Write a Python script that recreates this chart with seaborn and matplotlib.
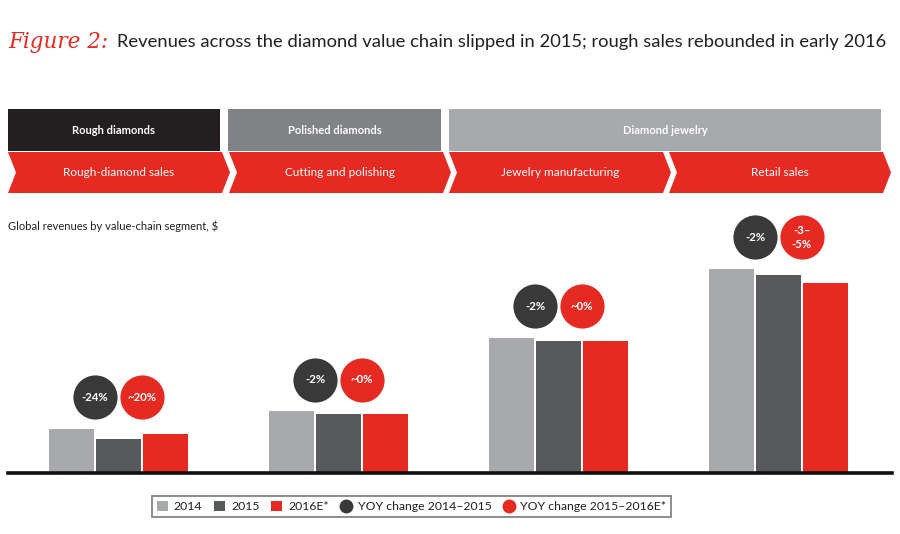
import matplotlib
matplotlib.use("Agg")
import matplotlib.pyplot as plt
from matplotlib.patches import Polygon, Rectangle, Patch
from matplotlib.lines import Line2D
import seaborn as sns
import pandas as pd

# ---------------- data ----------------
segments = ["Rough-diamond sales", "Cutting and polishing", "Jewelry manufacturing", "Retail sales"]
years = ["2014", "2015", "2016E*"]
values_2014 = [17.5, 24.6, 53.6, 81.0]
values_2015 = [13.3, 23.4, 52.4, 78.6]
values_2016 = [15.5, 23.4, 52.4, 75.4]
yoy_1415 = ["-24%", "-2%", "-2%", "-2%"]
yoy_1516 = ["~20%", "~0%", "~0%", "-3–\n-5%"]
header_groups = ["Rough diamonds", "Polished diamonds", "Diamond jewelry"]
legend_labels = ["2014", "2015", "2016E*", "YOY change 2014–2015", "YOY change 2015–2016E*"]

RED = "#E62A22"
DARK = "#58595B"
LIGHT = "#A7A9AC"
BUBBLE_DARK = "#393939"

sns.set_theme(style="white")
plt.rcParams["font.family"] = ["Lato", "DejaVu Sans"]

W, H = 900, 534
fig = plt.figure(figsize=(W / 100, H / 100), dpi=100)

# overlay axes in pixel coordinates for header decoration
ov = fig.add_axes([0, 0, 1, 1])
ov.set_xlim(0, W)
ov.set_ylim(H, 0)
ov.axis("off")

# title
ov.text(8, 42, "Figure 2:", color=RED, fontsize=15.5, style="italic",
        family=["DejaVu Serif"], va="center", ha="left")
ov.text(117, 42, "Revenues across the diamond value chain slipped in 2015; rough sales rebounded in early 2016",
        color="#231F20", fontsize=13.2, va="center", ha="left")

# header boxes
hdr = [(8, 220, "#231F20"), (228, 441, "#808285"), (449, 881, LIGHT)]
for (x0, x1, c), lab in zip(hdr, header_groups):
    ov.add_patch(Rectangle((x0, 109), x1 - x0, 42, color=c, lw=0))
    ov.text((x0 + x1) / 2, 130, lab, color="white", fontsize=8, weight="bold",
            ha="center", va="center")

# chevrons
xl = [8, 229, 449, 669]
xr = [222, 443, 663, 883]
top, bot, d = 152, 193, 8
mid = (top + bot) / 2
for a, b, lab in zip(xl, xr, segments):
    ov.add_patch(Polygon([(a, top), (b, top), (b + d, mid), (b, bot), (a, bot), (a + d, mid)],
                         closed=True, color=RED, lw=0))
    ov.text((a + b + d) / 2, mid, lab, color="white", fontsize=8.5, ha="center", va="center")

ov.text(8, 226, "Global revenues by value-chain segment, $", color="#231F20",
        fontsize=8, ha="left", va="center")

# ---------------- bar chart ----------------
ax_left, ax_right, ax_bottom, ax_top = 8, 892, 473, 221
ax = fig.add_axes([ax_left / W, (H - ax_bottom) / H, (ax_right - ax_left) / W, (ax_bottom - ax_top) / H])
ax.patch.set_alpha(0)

df = pd.DataFrame({
    "segment": segments * 3,
    "year": [years[0]] * 4 + [years[1]] * 4 + [years[2]] * 4,
    "value": values_2014 + values_2015 + values_2016,
})
bar_w = 0.64
sns.barplot(data=df, x="segment", y="value", hue="year", hue_order=years,
            palette=[LIGHT, DARK, RED], width=bar_w, gap=0.05, saturation=1,
            legend=False, ax=ax, linewidth=0)

ymax = 100
ax.set_ylim(0, ymax)
px_per_unit_x = 220.0
x_left = (ax_left - 118.5) / px_per_unit_x
ax.set_xlim(x_left, x_left + (ax_right - ax_left) / px_per_unit_x)
ax.set_xticks([])
ax.set_yticks([])
ax.set_xlabel("")
ax.set_ylabel("")
for s in ["top", "left", "right"]:
    ax.spines[s].set_visible(False)
ax.spines["bottom"].set_color("#111111")
ax.spines["bottom"].set_linewidth(2.6)

# bubbles
units_per_px = ymax / (ax_bottom - ax_top)
off = 31.5 * units_per_px
half = bar_w / 6
for i in range(len(segments)):
    top_v = max(values_2014[i], values_2015[i], values_2016[i])
    y = top_v + off
    for dx, col, lab in [(-half, BUBBLE_DARK, yoy_1415[i]), (half, RED, yoy_1516[i])]:
        ax.scatter([i + dx], [y], s=1090, color=col, edgecolor="white", linewidth=1.2,
                   zorder=5, clip_on=False)
        ax.text(i + dx, y, lab, color="white", fontsize=8.2, weight="bold",
                ha="center", va="center", zorder=6, linespacing=1.25)

# legend
handles = [
    Patch(facecolor=LIGHT, edgecolor="none"),
    Patch(facecolor=DARK, edgecolor="none"),
    Patch(facecolor=RED, edgecolor="none"),
    Line2D([], [], marker="o", color="none", markerfacecolor=BUBBLE_DARK, markeredgecolor="none", markersize=10),
    Line2D([], [], marker="o", color="none", markerfacecolor=RED, markeredgecolor="none", markersize=10),
]
leg = fig.legend(handles, legend_labels, loc="center", ncol=5,
                 bbox_to_anchor=(411.5 / W, 1 - 506.5 / H), frameon=True, fancybox=False,
                 fontsize=8.8, handlelength=0.9, handleheight=0.9, handletextpad=0.5,
                 columnspacing=0.95, borderpad=0.4, labelcolor="#231F20")
leg.get_frame().set_edgecolor("#666666")
leg.get_frame().set_linewidth(1.3)

fig.savefig("out.png", dpi=100)
